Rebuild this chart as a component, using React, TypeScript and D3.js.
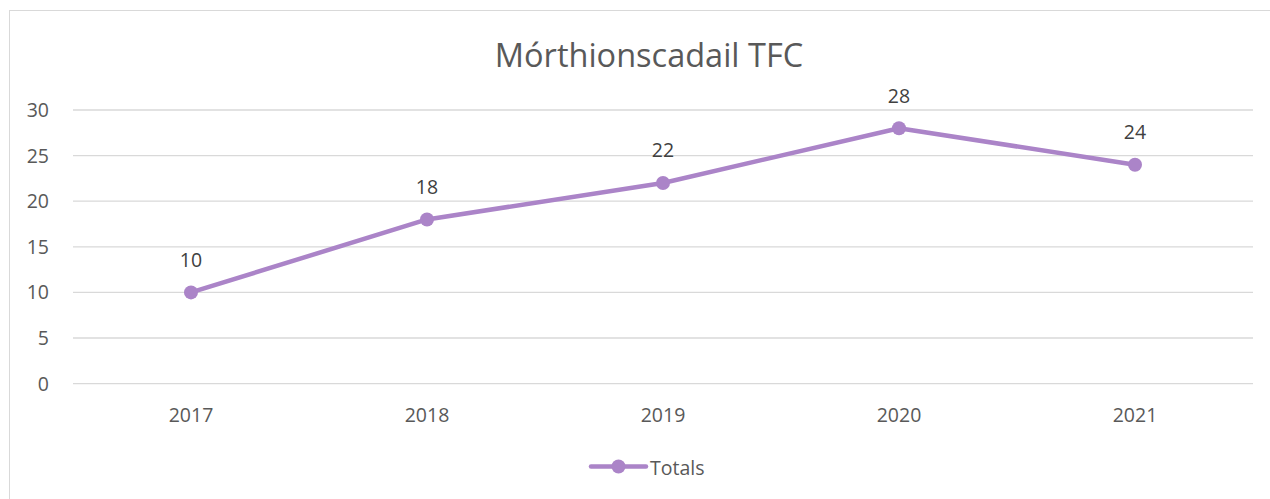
import React from "react";
import * as d3 from "d3";

const categories = ["2017", "2018", "2019", "2020", "2021"];
const totals = [10, 18, 22, 28, 24];
const yTicks = [0, 5, 10, 15, 20, 25, 30];
const title = "Mórthionscadail TFC";
const seriesName = "Totals";

const W = 1270;
const H = 499;
const FONT = "'Open Sans', 'Noto Sans', sans-serif";
const LINE = "#AB84C8";
const FS = 19.5;

export default function App() {
  const x = d3.scaleBand<string>().domain(categories).range([73, 1253]);
  const y = d3.scaleLinear().domain([0, 30]).range([383.6, 110]);
  const cx = (i: number) => (x(categories[i]) as number) + x.bandwidth() / 2;
  const line = d3
    .line<number>()
    .x((_, i) => cx(i))
    .y((d) => y(d));

  return (
    <div style={{ position: "absolute", left: 0, top: 0 }}>
      <svg width={W} height={H} style={{ display: "block", background: "#fff" }}>
        <rect x={9.5} y={10.5} width={1265} height={495} fill="#fff" stroke="#d9d9d9" strokeWidth={1} />
        <text x={649} y={67} textAnchor="middle" fontFamily={FONT} fontSize={32.5} fill="#595959">
          {title}
        </text>
        {yTicks.map((t) => (
          <g key={t}>
            <line x1={73} x2={1253} y1={y(t)} y2={y(t)} stroke="#d9d9d9" strokeWidth={1.3} />
            <text x={49} y={y(t) + 7} textAnchor="end" fontFamily={FONT} fontSize={FS} fill="#595959">
              {t}
            </text>
          </g>
        ))}
        {categories.map((c, i) => (
          <text key={c} x={cx(i)} y={422} textAnchor="middle" fontFamily={FONT} fontSize={FS} fill="#595959">
            {c}
          </text>
        ))}
        <path d={line(totals) || ""} fill="none" stroke={LINE} strokeWidth={4.5} strokeLinejoin="round" strokeLinecap="round" />
        {totals.map((v, i) => (
          <g key={i}>
            <circle cx={cx(i)} cy={y(v)} r={7} fill={LINE} />
            <text x={cx(i)} y={y(v) - 25.5} textAnchor="middle" fontFamily={FONT} fontSize={FS} fill="#404040">
              {v}
            </text>
          </g>
        ))}
        <line x1={591} x2={646} y1={466.5} y2={466.5} stroke={LINE} strokeWidth={4.5} strokeLinecap="round" />
        <circle cx={618.5} cy={466.5} r={7} fill={LINE} />
        <text x={650} y={474.5} fontFamily={FONT} fontSize={FS} fill="#595959">
          {seriesName}
        </text>
      </svg>
    </div>
  );
}
